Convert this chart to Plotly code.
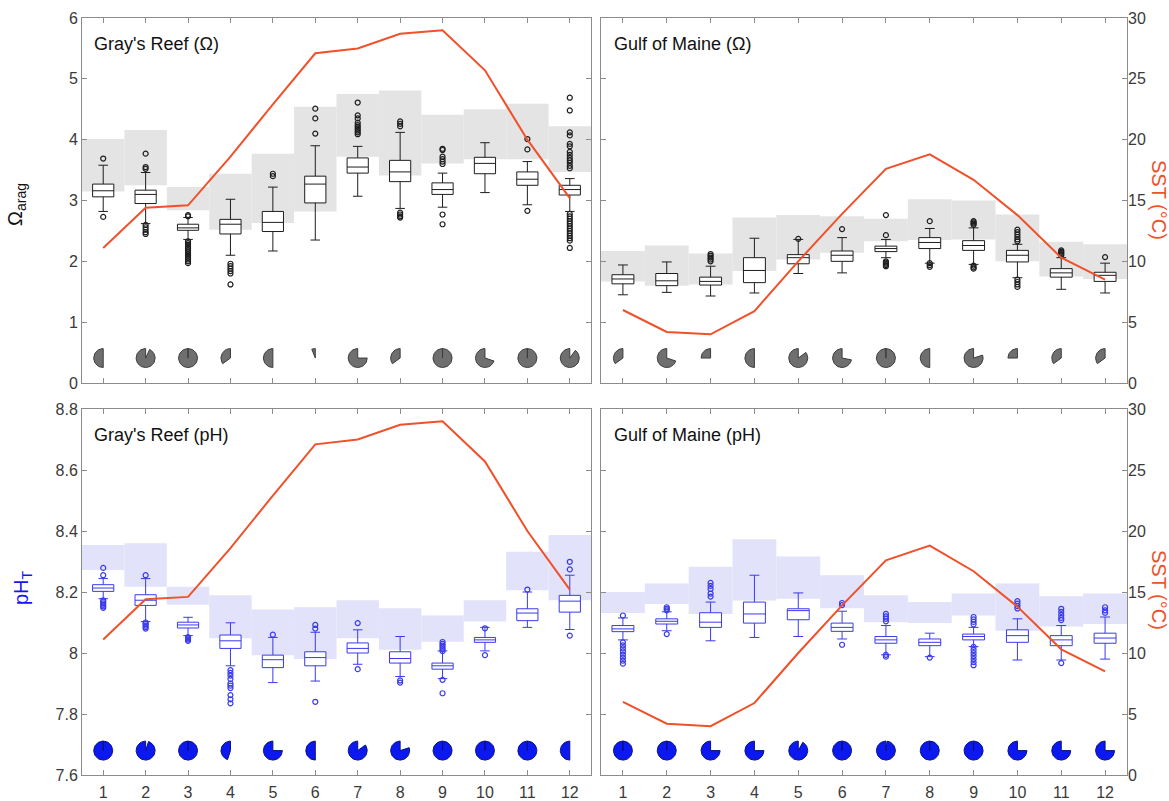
import math
import plotly.graph_objects as go

MONTHS = list(range(1, 13))

# ---------------- Gray's Reef, Omega ----------------
GR_OM_BAND_LO = [3.15, 3.25, 2.84, 2.52, 2.63, 2.82, 3.72, 3.41, 3.61, 3.68, 3.68, 3.47]
GR_OM_BAND_HI = [4.01, 4.16, 3.22, 3.44, 3.77, 4.54, 4.75, 4.81, 4.41, 4.50, 4.59, 4.22]
GR_OM_WL = [2.82, 2.62, 2.36, 2.10, 2.17, 2.35, 3.07, 2.87, 2.89, 3.13, 2.93, 2.82]
GR_OM_Q1 = [3.06, 2.95, 2.51, 2.45, 2.49, 2.96, 3.45, 3.31, 3.10, 3.44, 3.25, 3.09]
GR_OM_MED = [3.16, 3.10, 2.55, 2.61, 2.64, 3.27, 3.55, 3.47, 3.18, 3.61, 3.35, 3.18]
GR_OM_Q3 = [3.27, 3.17, 2.61, 2.69, 2.82, 3.40, 3.70, 3.66, 3.29, 3.71, 3.47, 3.25]
GR_OM_WH = [3.58, 3.46, 2.72, 3.02, 3.22, 3.90, 3.89, 4.12, 3.45, 3.95, 3.64, 3.36]
GR_OM_OUT = [
    [3.69, 2.73],
    [3.77, 3.55, 3.52, 2.60, 2.56, 2.52, 2.48, 2.45],
    [2.76, 2.74, 2.33, 2.30, 2.27, 2.24, 2.21, 2.18, 2.15, 2.12, 2.09, 2.06, 2.03, 2.00, 1.97],
    [1.96, 1.92, 1.88, 1.84, 1.80, 1.62],
    [3.44, 3.40],
    [4.51, 4.35, 4.10],
    [4.61, 4.40, 4.35, 4.28, 4.24, 4.21, 4.18, 4.15, 4.12, 4.09],
    [4.30, 4.26, 4.22, 2.80, 2.77, 2.74, 2.72],
    [3.85, 3.83, 3.72, 3.68, 3.64, 3.60, 2.77, 2.61],
    [],
    [4.01, 3.84, 2.83],
    [4.69, 4.48, 4.12, 4.07, 3.93, 3.89, 3.80, 3.75, 3.70, 3.66, 3.62, 3.57, 3.53,
     2.78, 2.74, 2.70, 2.66, 2.62, 2.58, 2.54, 2.50, 2.46, 2.42, 2.38, 2.34, 2.22],
]
GR_OM_PIE = [0.5, 0.93, 1.0, 0.35, 0.5, 0.06, 0.75, 0.35, 1.0, 0.7, 1.0, 0.9]

# ---------------- Gulf of Maine, Omega ----------------
GM_OM_BAND_LO = [1.67, 1.60, 1.62, 1.84, 2.03, 2.14, 2.33, 2.35, 2.36, 2.00, 1.75, 1.71]
GM_OM_BAND_HI = [2.17, 2.26, 2.13, 2.72, 2.76, 2.74, 2.70, 3.02, 3.00, 2.77, 2.32, 2.28]
GM_OM_WL = [1.45, 1.49, 1.43, 1.48, 1.80, 1.81, 2.06, 1.97, 1.95, 1.73, 1.54, 1.48]
GM_OM_Q1 = [1.63, 1.60, 1.61, 1.65, 1.96, 2.00, 2.16, 2.21, 2.18, 1.99, 1.74, 1.67]
GM_OM_MED = [1.71, 1.68, 1.67, 1.85, 2.06, 2.10, 2.21, 2.31, 2.26, 2.10, 1.81, 1.77]
GM_OM_Q3 = [1.78, 1.80, 1.74, 2.06, 2.11, 2.17, 2.25, 2.39, 2.34, 2.18, 1.88, 1.82]
GM_OM_WH = [1.94, 1.99, 1.92, 2.38, 2.36, 2.39, 2.36, 2.54, 2.55, 2.28, 2.06, 1.97]
GM_OM_OUT = [
    [], [],
    [2.12, 2.09, 2.06, 2.03, 2.00],
    [],
    [2.37],
    [2.53],
    [2.76, 2.43, 2.00, 1.98, 1.96, 1.94, 1.92],
    [2.66, 1.97, 1.94, 1.91],
    [2.66, 2.64, 2.62, 2.60, 1.93, 1.90, 1.88],
    [2.52, 2.48, 2.44, 2.40, 2.36, 2.33, 1.70, 1.66, 1.62, 1.58],
    [2.18, 2.16, 2.14, 2.12, 2.10],
    [2.07],
]
GM_OM_PIE = [0.35, 0.7, 0.25, 0.5, 0.85, 0.72, 1.0, 0.5, 0.8, 0.25, 0.35, 0.35]

# ---------------- Gray's Reef, pH ----------------
GR_PH_BAND_LO = [8.272, 8.217, 8.158, 8.048, 7.993, 7.980, 8.048, 8.011, 8.037, 8.103, 8.206, 8.173]
GR_PH_BAND_HI = [8.354, 8.360, 8.217, 8.189, 8.143, 8.150, 8.173, 8.147, 8.123, 8.173, 8.332, 8.387]
GR_PH_WL = [8.178, 8.103, 8.057, 7.958, 7.903, 7.908, 7.963, 7.923, 7.916, 8.007, 8.084, 8.077]
GR_PH_Q1 = [8.202, 8.156, 8.082, 8.015, 7.952, 7.958, 8.000, 7.967, 7.947, 8.035, 8.106, 8.134]
GR_PH_MED = [8.213, 8.173, 8.092, 8.040, 7.978, 7.985, 8.015, 7.982, 7.958, 8.043, 8.131, 8.170]
GR_PH_Q3 = [8.224, 8.191, 8.101, 8.059, 7.993, 8.004, 8.033, 8.004, 7.967, 8.051, 8.145, 8.189]
GR_PH_WH = [8.244, 8.244, 8.117, 8.099, 8.051, 8.068, 8.076, 8.054, 8.007, 8.084, 8.200, 8.255]
GR_PH_OUT = [
    [8.279, 8.255, 8.173, 8.168, 8.163, 8.158, 8.153, 8.148],
    [8.255, 8.100, 8.095, 8.090, 8.085, 8.080],
    [8.052, 8.048, 8.044, 8.040],
    [7.944, 7.935, 7.926, 7.915, 7.900, 7.893, 7.885, 7.862, 7.848, 7.835],
    [8.060],
    [8.092, 8.080, 7.840],
    [8.098, 7.947],
    [7.910, 7.903],
    [8.036, 8.030, 8.024, 8.018, 8.012, 8.006, 7.912, 7.868],
    [8.081, 7.993],
    [8.208],
    [8.299, 8.274, 8.057],
]
GR_PH_PIE = [1.0, 0.95, 1.0, 0.45, 0.75, 0.5, 0.85, 0.8, 1.0, 1.0, 1.0, 0.5]

# ---------------- Gulf of Maine, pH ----------------
GM_PH_BAND_LO = [8.131, 8.161, 8.128, 8.172, 8.178, 8.147, 8.101, 8.098, 8.123, 8.073, 8.087, 8.095]
GM_PH_BAND_HI = [8.200, 8.228, 8.283, 8.373, 8.316, 8.255, 8.189, 8.167, 8.195, 8.228, 8.186, 8.195]
GM_PH_WL = [8.043, 8.073, 8.040, 8.051, 8.054, 8.046, 7.994, 7.988, 8.021, 7.977, 7.977, 7.980]
GM_PH_Q1 = [8.070, 8.095, 8.084, 8.098, 8.109, 8.071, 8.032, 8.024, 8.043, 8.035, 8.024, 8.032]
GM_PH_MED = [8.079, 8.104, 8.101, 8.128, 8.139, 8.084, 8.043, 8.035, 8.054, 8.057, 8.043, 8.049]
GM_PH_Q3 = [8.090, 8.112, 8.132, 8.167, 8.145, 8.098, 8.054, 8.046, 8.062, 8.076, 8.057, 8.065]
GM_PH_WH = [8.115, 8.135, 8.167, 8.255, 8.197, 8.137, 8.090, 8.065, 8.084, 8.112, 8.090, 8.118]
GM_PH_OUT = [
    [8.123, 8.035, 8.025, 8.015, 8.005, 7.995, 7.985, 7.975, 7.965],
    [8.150, 8.145, 8.140, 8.062],
    [8.230, 8.220, 8.210, 8.195, 8.185],
    [],
    [],
    [8.164, 8.157, 8.027],
    [8.128, 8.120, 8.112, 8.104, 7.994, 7.988],
    [7.985],
    [8.118, 8.110, 8.102, 8.094, 8.020, 8.010, 8.000, 7.990, 7.980, 7.970, 7.960],
    [8.170, 8.162, 8.154, 8.146],
    [8.145, 8.135, 8.125, 8.115, 8.108, 7.967],
    [8.150, 8.140, 8.132],
]
GM_PH_PIE = [1.0, 1.0, 0.75, 0.75, 0.92, 1.0, 0.98, 1.0, 1.0, 0.75, 0.75, 0.75]

# ---------------- SST ----------------
GR_SST = [11.1, 14.4, 14.6, 18.6, 22.9, 27.1, 27.5, 28.7, 29.0, 25.7, 20.0, 15.2]
GM_SST = [6.0, 4.2, 4.0, 5.9, 10.0, 13.9, 17.6, 18.8, 16.7, 13.8, 10.3, 8.5]

OM_TICKS = [0, 1, 2, 3, 4, 5, 6]
PH_TICKS = [7.6, 7.8, 8.0, 8.2, 8.4, 8.6, 8.8]
PH_TICKTEXT = ["7.6", "7.8", "8", "8.2", "8.4", "8.6", "8.8"]
SST_TICKS = [0, 5, 10, 15, 20, 25, 30]

# ---------------- geometry ----------------
W, H = 1169, 801
ML, MR, MT, MB = 82, 42, 18, 26
PW, PH = W - ML - MR, H - MT - MB


def xdom(p0, p1):
    return [(p0 - ML) / PW, (p1 - ML) / PW]


def ydom(ptop, pbot):
    return [(H - MB - pbot) / PH, (H - MB - ptop) / PH]


XL, XR = xdom(82, 591), xdom(601, 1127)
YT, YB = ydom(18, 383), ydom(409, 775)

FONT = "Liberation Sans, Arial, sans-serif"
FRAME = "#8c8c8c"
TICKC = "#3a3a3a"
SSTC = "#f0502a"
BLACK = "#1e1e1e"
BLUE = "#3a3aee"

fig = go.Figure()

panels = [
    dict(x="x", y="y", ys="y2", lo=GR_OM_BAND_LO, hi=GR_OM_BAND_HI, wl=GR_OM_WL, q1=GR_OM_Q1,
         med=GR_OM_MED, q3=GR_OM_Q3, wh=GR_OM_WH, out=GR_OM_OUT, pie=GR_OM_PIE, sst=GR_SST,
         band="#e4e4e4", line=BLACK, piefill="#6f6f6f", pieedge="#3c3c3c", piey=0.41,
         xw=XL, yh=YT, yr=[0, 6]),
    dict(x="x2", y="y3", ys="y4", lo=GM_OM_BAND_LO, hi=GM_OM_BAND_HI, wl=GM_OM_WL, q1=GM_OM_Q1,
         med=GM_OM_MED, q3=GM_OM_Q3, wh=GM_OM_WH, out=GM_OM_OUT, pie=GM_OM_PIE, sst=GM_SST,
         band="#e4e4e4", line=BLACK, piefill="#6f6f6f", pieedge="#3c3c3c", piey=0.41,
         xw=XR, yh=YT, yr=[0, 6]),
    dict(x="x3", y="y5", ys="y6", lo=GR_PH_BAND_LO, hi=GR_PH_BAND_HI, wl=GR_PH_WL, q1=GR_PH_Q1,
         med=GR_PH_MED, q3=GR_PH_Q3, wh=GR_PH_WH, out=GR_PH_OUT, pie=GR_PH_PIE, sst=GR_SST,
         band="#e2e2fa", line=BLUE, piefill="#0b18f2", pieedge="#08107a", piey=7.68,
         xw=XL, yh=YB, yr=[7.6, 8.8]),
    dict(x="x4", y="y7", ys="y8", lo=GM_PH_BAND_LO, hi=GM_PH_BAND_HI, wl=GM_PH_WL, q1=GM_PH_Q1,
         med=GM_PH_MED, q3=GM_PH_Q3, wh=GM_PH_WH, out=GM_PH_OUT, pie=GM_PH_PIE, sst=GM_SST,
         band="#e2e2fa", line=BLUE, piefill="#0b18f2", pieedge="#08107a", piey=7.68,
         xw=XR, yh=YB, yr=[7.6, 8.8]),
]

PIE_R = 9.5  # pixels

for p in panels:
    # shaded band (range per month)
    fig.add_trace(go.Bar(
        x=MONTHS, y=[h - l for h, l in zip(p["hi"], p["lo"])], base=p["lo"], width=1.0,
        marker=dict(color=p["band"], line=dict(width=0)), xaxis=p["x"], yaxis=p["y"],
        showlegend=False, hoverinfo="skip"))
    # boxes
    fig.add_trace(go.Box(
        x=MONTHS, q1=p["q1"], median=p["med"], q3=p["q3"], lowerfence=p["wl"], upperfence=p["wh"],
        boxpoints=False, fillcolor="white", line=dict(color=p["line"], width=1),
        width=0.5, whiskerwidth=0.45, xaxis=p["x"], yaxis=p["y"], showlegend=False))
    # outliers
    ox, oy = [], []
    for m, vals in zip(MONTHS, p["out"]):
        for v in vals:
            ox.append(m)
            oy.append(v)
    fig.add_trace(go.Scatter(
        x=ox, y=oy, mode="markers",
        marker=dict(symbol="circle-open", size=5, color=p["line"], line=dict(width=1.2)),
        xaxis=p["x"], yaxis=p["y"], showlegend=False))
    # pies (fraction of month covered), drawn as filled wedges
    pxu = (p["xw"][1] - p["xw"][0]) * PW / 12.0
    pyu = (p["yh"][1] - p["yh"][0]) * PH / (p["yr"][1] - p["yr"][0])
    rx, ry = PIE_R / pxu, PIE_R / pyu
    px, py = [], []
    for m, f in zip(MONTHS, p["pie"]):
        n = max(3, int(round(72 * f)))
        px.append(m)
        py.append(p["piey"])
        for k in range(n + 1):
            a = math.radians(90 + 360.0 * f * k / n)
            px.append(m + rx * math.cos(a))
            py.append(p["piey"] + ry * math.sin(a))
        px.append(m)
        py.append(p["piey"])
        px.append(None)
        py.append(None)
    fig.add_trace(go.Scatter(
        x=px, y=py, mode="lines", fill="toself", fillcolor=p["piefill"],
        line=dict(color=p["pieedge"], width=1), xaxis=p["x"], yaxis=p["y"],
        showlegend=False, hoverinfo="skip"))
    # SST line (right axis)
    fig.add_trace(go.Scatter(
        x=MONTHS, y=p["sst"], mode="lines", line=dict(color=SSTC, width=2),
        xaxis=p["x"], yaxis=p["ys"], showlegend=False))

common_x = dict(range=[0.5, 12.5], tickvals=MONTHS, ticks="inside", ticklen=5, tickcolor=FRAME,
                showline=True, linecolor=FRAME, linewidth=1, mirror="ticks", showgrid=False,
                zeroline=False, ticklabelstandoff=3, automargin=False,
                tickfont=dict(family=FONT, size=16, color=TICKC))
common_y = dict(ticks="inside", ticklen=5, tickcolor=FRAME, showline=True, linecolor=FRAME,
                linewidth=1, mirror="ticks", showgrid=False, zeroline=False, automargin=False,
                tickfont=dict(family=FONT, size=16, color=TICKC))
sst_right = dict(range=[0, 30], tickvals=SST_TICKS, side="right", ticks="inside", ticklen=5,
                 tickcolor=FRAME, showline=False, showgrid=False, zeroline=False,
                 automargin=False, tickfont=dict(family=FONT, size=16, color=TICKC))

fig.update_layout(
    width=W, height=H, margin=dict(l=ML, r=MR, t=MT, b=MB),
    paper_bgcolor="white", plot_bgcolor="white", showlegend=False,
    font=dict(family=FONT),
    xaxis=dict(common_x, domain=XL, anchor="y", showticklabels=False),
    yaxis=dict(common_y, domain=YT, anchor="x", range=[0, 6], tickvals=OM_TICKS),
    yaxis2=dict(overlaying="y", anchor="x", range=[0, 30], visible=False),
    xaxis2=dict(common_x, domain=XR, anchor="y3", showticklabels=False),
    yaxis3=dict(common_y, domain=YT, anchor="x2", range=[0, 6], tickvals=OM_TICKS,
                showticklabels=False),
    yaxis4=dict(sst_right, overlaying="y3", anchor="x2"),
    xaxis3=dict(common_x, domain=XL, anchor="y5"),
    yaxis5=dict(common_y, domain=YB, anchor="x3", range=[7.6, 8.8], tickvals=PH_TICKS,
                ticktext=PH_TICKTEXT),
    yaxis6=dict(overlaying="y5", anchor="x3", range=[0, 30], visible=False),
    xaxis4=dict(common_x, domain=XR, anchor="y7"),
    yaxis7=dict(common_y, domain=YB, anchor="x4", range=[7.6, 8.8], tickvals=PH_TICKS,
                showticklabels=False),
    yaxis8=dict(sst_right, overlaying="y7", anchor="x4"),
)

title_font = dict(family=FONT, size=18, color="#111111")
for xr_, yr_, txt in [("x domain", "y domain", "Gray's Reef (Ω)"),
                      ("x2 domain", "y3 domain", "Gulf of Maine (Ω)"),
                      ("x3 domain", "y5 domain", "Gray's Reef (pH)"),
                      ("x4 domain", "y7 domain", "Gulf of Maine (pH)")]:
    fig.add_annotation(text=txt, xref=xr_, yref=yr_, x=0.02, y=0.928, xanchor="left",
                       yanchor="middle", showarrow=False, font=title_font)


def px2paper(xp, yp):
    return (xp - ML) / PW, (H - MB - yp) / PH


ax, ay = px2paper(17, 205)
fig.add_annotation(text="Ω<sub>arag</sub>", xref="paper", yref="paper", x=ax, y=ay,
                   textangle=-90, showarrow=False, xanchor="center", yanchor="middle",
                   font=dict(family=FONT, size=20, color="#111111"))
ax, ay = px2paper(22, 588)
fig.add_annotation(text="pH<sub>T</sub>", xref="paper", yref="paper", x=ax, y=ay,
                   textangle=-90, showarrow=False, xanchor="center", yanchor="middle",
                   font=dict(family=FONT, size=20, color="#1414f0"))
for yp in (200, 590):
    ax, ay = px2paper(1159, yp)
    fig.add_annotation(text="SST (°C)", xref="paper", yref="paper", x=ax, y=ay,
                       textangle=90, showarrow=False, xanchor="center", yanchor="middle",
                       font=dict(family=FONT, size=20, color=SSTC))

fig.write_html("out.html")
